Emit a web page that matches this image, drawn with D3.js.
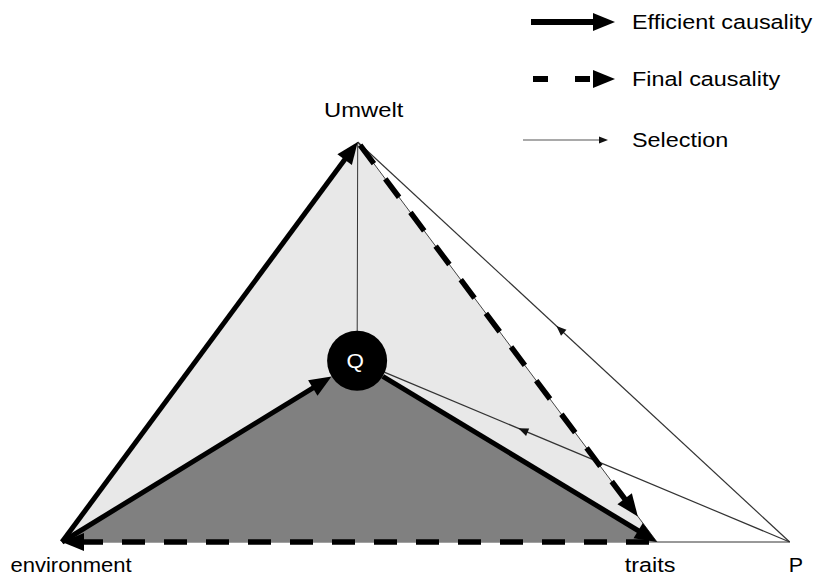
<!DOCTYPE html>
<html>
<head>
  <script src="https://d3js.org/d3.v7.min.js"></script>
  <style>
    body { margin: 0; background: #fff; }
    text { font-family: "Liberation Sans", Arial, sans-serif; }
  </style>
</head>
<body>
  <script>
    // nodes of the diagram (abstract units, 0..100)
    var nodeNames = ['environment', 'traits', 'P', 'Umwelt', 'Q'];
    var nodeX = [0, 100, 122.3, 49.7, 49.6];
    var nodeY = [0, 0, 0, 100, 45.3];

    // links between nodes
    var efficientLinks = [['environment', 'Umwelt'], ['environment', 'Q'], ['Q', 'traits']];
    var finalLinks = [['Umwelt', 'traits'], ['traits', 'environment']];
    var selectionLinks = [['P', 'Umwelt'], ['P', 'Q']];
    var selectionArrowAt = [0.54, 0.67];
    var plainLinks = [['Umwelt', 'Q'], ['traits', 'P']];

    var legendLabels = ['Efficient causality', 'Final causality', 'Selection'];

    var width = 817;
    var height = 577;
    var qRadius = 30;

    var x = d3.scaleLinear().domain([0, 100]).range([62, 657]);
    var y = d3.scaleLinear().domain([0, 100]).range([542, 142]);

    var svg = d3.select('body')
          .append('svg')
          .attr('width', width)
          .attr('height', height);

    // lookup position by name
    function pos(name) {
      var i = nodeNames.indexOf(name);
      return [x(nodeX[i]), y(nodeY[i])];
    }

    // arrow head polygon at tip, pointing away from 'from'
    function head(tip, from, len, half) {
      var dx = tip[0] - from[0], dy = tip[1] - from[1];
      var d = Math.sqrt(dx * dx + dy * dy);
      var ux = dx / d, uy = dy / d;
      var bx = tip[0] - ux * len, by = tip[1] - uy * len;
      return [tip, [bx - uy * half, by + ux * half], [bx + uy * half, by - ux * half]];
    }

    function along(a, b, t) {
      return [a[0] + (b[0] - a[0]) * t, a[1] + (b[1] - a[1]) * t];
    }

    function moveTowards(a, b, dist) {
      var dx = b[0] - a[0], dy = b[1] - a[1];
      var d = Math.sqrt(dx * dx + dy * dy);
      return [a[0] + dx / d * dist, a[1] + dy / d * dist];
    }

    // text is a bit stretched sideways in the original
    function label(g, str, tx, ty, anchor, sx, color) {
      return g.append('text')
        .attr('transform', 'translate(' + tx + ',' + ty + ') scale(' + sx + ',1)')
        .attr('text-anchor', anchor)
        .attr('font-size', 19.5)
        .attr('fill', color || '#000')
        .text(str);
    }

    var line = d3.line();

    // triangles
    svg.append('path')
      .attr('d', line([pos('environment'), pos('Umwelt'), pos('traits')]) + 'Z')
      .attr('fill', '#e8e8e8')
      .attr('stroke', '#444')
      .attr('stroke-width', 1);

    svg.append('path')
      .attr('d', line([pos('environment'), pos('Q'), pos('traits')]) + 'Z')
      .attr('fill', '#808080');

    // plain thin lines
    svg.append('g').selectAll('path')
      .data(plainLinks)
      .enter()
      .append('path')
      .attr('d', function (l) { return line([pos(l[0]), pos(l[1])]); })
      .attr('stroke', '#333')
      .attr('stroke-width', 1);

    // selection (thin, arrow in the middle)
    var sel = svg.append('g');
    selectionLinks.forEach(function (l, i) {
      var a = pos(l[0]);
      var b = l[1] === 'Q' ? moveTowards(pos('Q'), a, qRadius) : pos(l[1]);
      sel.append('path')
        .attr('d', line([a, b]))
        .attr('stroke', '#333')
        .attr('stroke-width', 1.2);
      var tip = along(a, b, selectionArrowAt[i]);
      sel.append('path')
        .attr('d', line(head(tip, a, 10, 4)) + 'Z')
        .attr('fill', '#111');
    });

    // efficient causality (thick solid)
    var eff = svg.append('g');
    efficientLinks.forEach(function (l) {
      var a = pos(l[0]), b = pos(l[1]);
      if (l[0] === 'Q') a = moveTowards(a, b, qRadius);
      if (l[1] === 'Q') b = moveTowards(b, a, qRadius);
      eff.append('path')
        .attr('d', line([a, moveTowards(b, a, 14)]))
        .attr('stroke', '#000')
        .attr('stroke-width', 5);
      eff.append('path')
        .attr('d', line(head(b, a, 22, 9)) + 'Z')
        .attr('fill', '#000');
    });

    // final causality (thick dashed)
    var fin = svg.append('g');
    finalLinks.forEach(function (l) {
      var a = pos(l[0]), b = pos(l[1]);
      if (l[0] === 'Umwelt') {
        a = moveTowards(a, b, 4);
        b = moveTowards(b, a, 32);
      } else {
        a = moveTowards(a, b, 8);
      }
      fin.append('path')
        .attr('d', line([a, moveTowards(b, a, 14)]))
        .attr('stroke', '#000')
        .attr('stroke-width', 5.5)
        .attr('stroke-dasharray', '23,19');
      fin.append('path')
        .attr('d', line(head(b, a, 22, 9)) + 'Z')
        .attr('fill', '#000');
    });

    // Q node
    var q = pos('Q');
    svg.append('circle')
      .attr('cx', q[0]).attr('cy', q[1]).attr('r', qRadius)
      .attr('fill', '#000');
    label(svg, 'Q', q[0] - 2, q[1] + 7, 'middle', 1.15, '#fff');

    // node labels
    var u = pos('Umwelt');
    label(svg, 'Umwelt', u[0] + 6, 117, 'middle', 1.22);
    label(svg, 'environment', 71, 572, 'middle', 1.13);
    label(svg, 'traits', 650, 572, 'middle', 1.2);
    label(svg, 'P', 796, 572, 'middle', 1.1);

    // legend
    var legend = svg.append('g');
    var ly = d3.scalePoint().domain(legendLabels).range([22, 140]);
    legendLabels.forEach(function (name, i) {
      var yy = ly(name) - (i === 1 ? 2 : 0);
      var a = [i === 2 ? 523 : 531, yy];
      var b = [i === 2 ? 608 : 615, yy];
      if (i === 0) {
        legend.append('path').attr('d', line([a, [b[0] - 14, yy]]))
          .attr('stroke', '#000').attr('stroke-width', 6);
        legend.append('path').attr('d', line(head(b, a, 22, 9)) + 'Z').attr('fill', '#000');
      } else if (i === 1) {
        legend.append('path').attr('d', line([[533, yy], [b[0] - 14, yy]]))
          .attr('stroke', '#000').attr('stroke-width', 6)
          .attr('stroke-dasharray', '15,27');
        legend.append('path').attr('d', line(head(b, a, 22, 9)) + 'Z').attr('fill', '#000');
      } else {
        legend.append('path').attr('d', line([a, [b[0] - 6, yy]]))
          .attr('stroke', '#555').attr('stroke-width', 1.2);
        legend.append('path').attr('d', line(head(b, a, 9, 3.5)) + 'Z').attr('fill', '#111');
      }
      label(legend, name, 632, yy + 7, 'start', 1.2);
    });
  </script>
</body>
</html>
